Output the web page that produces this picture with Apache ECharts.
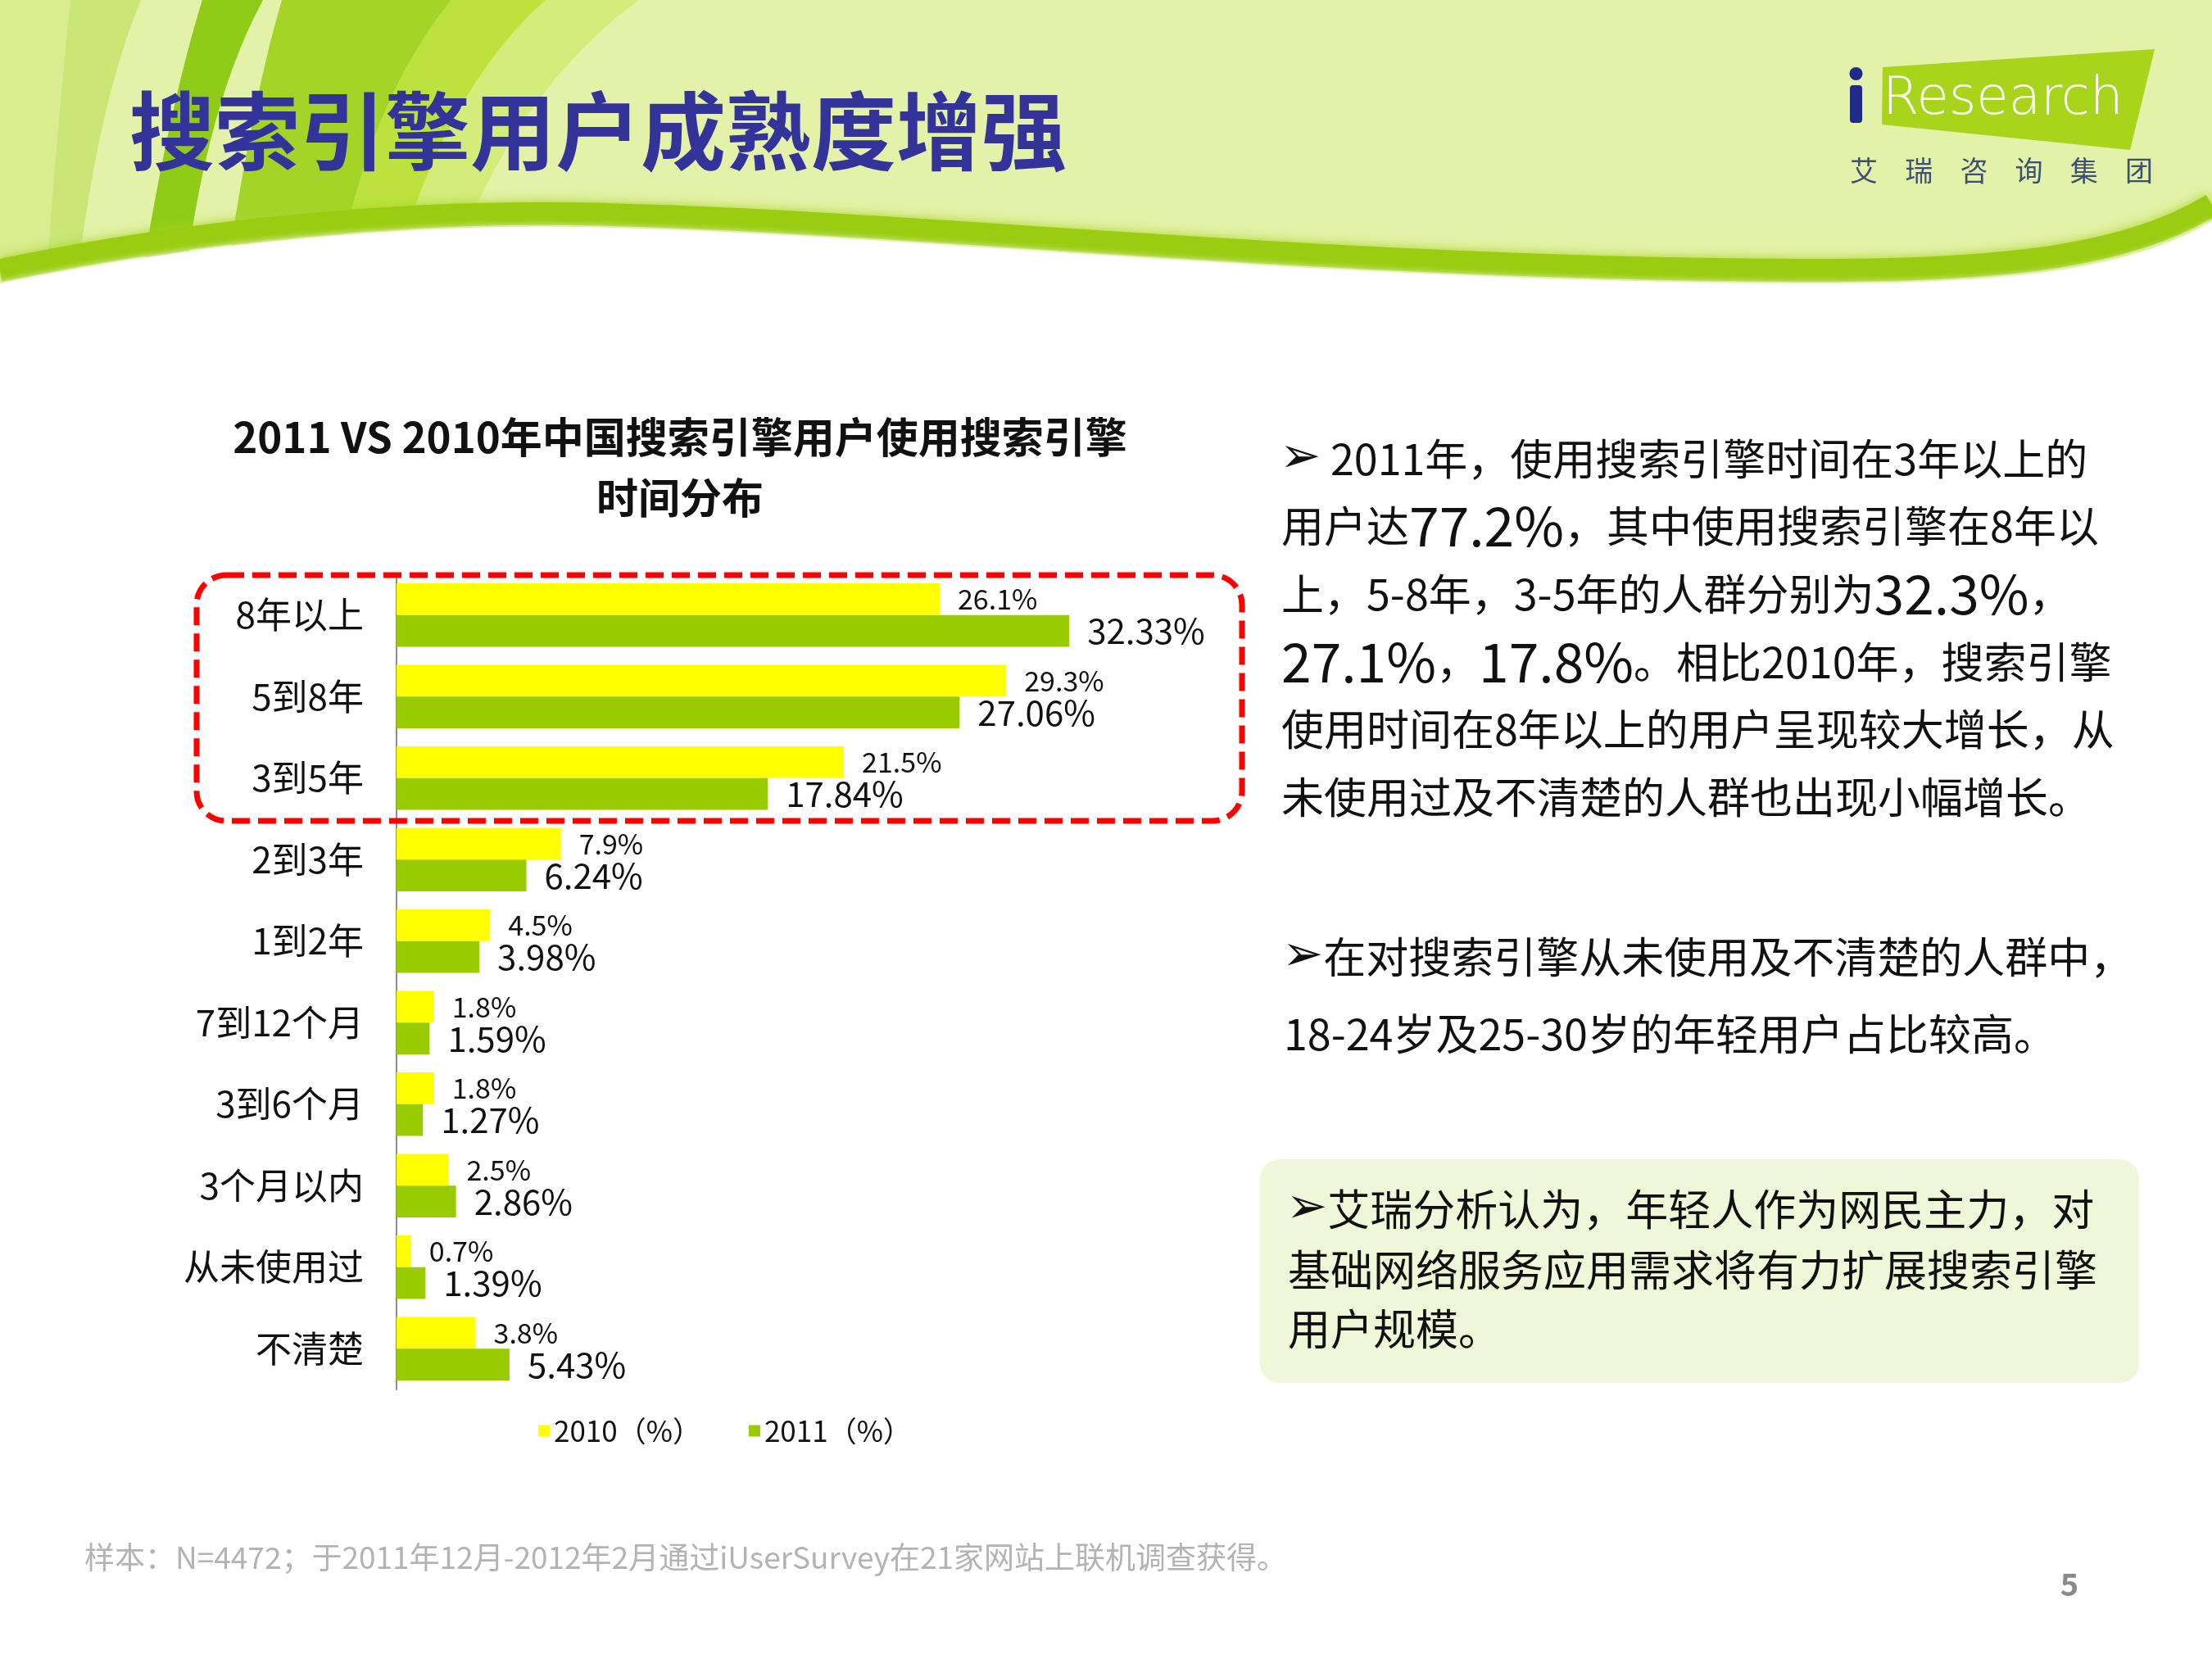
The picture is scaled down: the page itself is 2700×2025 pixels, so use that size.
<!DOCTYPE html>
<html>
<head>
<meta charset="utf-8">
<title>搜索引擎用户成熟度增强</title>
<script src="https://cdn.jsdelivr.net/npm/echarts/dist/echarts.min.js"></script>
<style>
    html, body { margin: 0; padding: 0; background: #ffffff; }
    #main { width: 2700px; height: 2025px; }
</style>
</head>
<body>
<div id="main"></div>
<script>
// 使用时长分类 (从上到下)
var categories = ['8年以上', '5到8年', '3到5年', '2到3年', '1到2年', '7到12个月', '3到6个月', '3个月以内', '从未使用过', '不清楚'];
var values2010 = [26.1, 29.3, 21.5, 7.9, 4.5, 1.8, 1.8, 2.5, 0.7, 3.8];
var values2011 = [32.33, 27.06, 17.84, 6.24, 3.98, 1.59, 1.27, 2.86, 1.39, 5.43];
var seriesNames = ['2010（%）', '2011（%）'];

var FONT = "'Noto Sans CJK SC', 'Noto Sans', sans-serif";

// 页眉装饰路径
var headerPaths = {
    hdrEdge: 'M0,0 L86,0 Q70,150 50,420 L0,420 Z',
    hdrStripeA: 'M86,0 L172,0 Q110,150 86,420 L50,420 Q70,150 86,0 Z',
    hdrStripeB: 'M247,0 L321,0 Q240,150 218,420 L160,420 Q200,150 247,0 Z',
    hdrStripeC: 'M344,0 L551,0 Q430,150 400,420 L265,420 Q300,150 344,0 Z',
    hdrStripeD: 'M551,0 L666,0 Q520,130 460,420 L400,420 Q430,150 551,0 Z',
    hdrStripeE: 'M666,0 L780,0 Q600,130 520,420 L460,420 Q520,130 666,0 Z',
    hdrBand: 'M0,330 C250,278 500,258 700,261 C1100,268 1600,328 2200,330 C2450,331 2600,312 2700,250',
    hdrWhite: 'M0,346 C250,294 500,274 700,277 C1100,284 1600,344 2200,346 C2450,347 2600,330 2700,270 L2700,440 L0,440 Z'
};
for (var name in headerPaths) {
    echarts.graphic.registerShape(name, echarts.graphic.extendPath(headerPaths[name]));
}

function txt(x, y, text, size, extra) {
    var style = {
        text: text,
        x: x,
        y: y,
        fontSize: size,
        fontFamily: FONT,
        fill: '#111111',
        verticalAlign: 'middle'
    };
    for (var k in extra) {
        style[k] = extra[k];
    }
    return { type: 'text', z: 10, style: style };
}

var bigNum = { n: { fontSize: 66, fontFamily: FONT, fill: '#111111' } };
var arrow = { a: { fontSize: 60, fontFamily: "'DejaVu Sans', sans-serif", fill: '#111111' } };

var graphics = [
    // 页眉背景
    { type: 'rect', z: 0, shape: { x: 0, y: 0, width: 2700, height: 420 }, style: { fill: '#e4f1a8' } },
    { type: 'hdrEdge', z: 1, style: { fill: '#d9ec90' } },
    { type: 'hdrStripeA', z: 1, style: { fill: '#c9e677' } },
    { type: 'hdrStripeB', z: 1, style: { fill: '#8fcb17' } },
    { type: 'hdrStripeC', z: 1, style: { fill: '#a4d428' } },
    { type: 'hdrStripeD', z: 1, style: { fill: '#bde23c' } },
    { type: 'hdrStripeE', z: 1, style: { fill: '#d4ec7a' } },
    { type: 'hdrBand', z: 2, style: { fill: null, stroke: '#9acd12', lineWidth: 28, shadowBlur: 14, shadowColor: '#a8d62a' } },
    { type: 'hdrWhite', z: 3, style: { fill: '#ffffff', shadowBlur: 10, shadowColor: '#ffffff' } },
    // 标题
    txt(158, 160, '搜索引擎用户成熟度增强', 104, { fill: '#333399', fontWeight: 'bold' }),
    // iResearch 标志
    { type: 'polygon', z: 5, shape: { points: [[2298, 82], [2630, 60], [2600, 183], [2297, 152]] }, style: { fill: '#a8d41c' } },
    { type: 'rect', z: 6, shape: { x: 2258, y: 104, width: 15, height: 46, r: 4 }, style: { fill: '#1f2a8a' } },
    { type: 'circle', z: 6, shape: { cx: 2265.5, cy: 90, r: 8 }, style: { fill: '#1f2a8a' } },
    txt(2298, 122, 'Research', 64, { fill: '#ffffff', fontFamily: "'DejaVu Sans ExtraLight', 'DejaVu Sans', sans-serif", fontWeight: 'lighter' }),
    // 图表标题
    txt(830, 534, '2011 VS 2010年中国搜索引擎用户使用搜索引擎', 51, { fontWeight: 'bold', align: 'center' }),
    txt(830, 608, '时间分布', 51, { fontWeight: 'bold', align: 'center' }),
    // 红色虚线框
    {
        type: 'rect', z: 10,
        shape: { x: 240, y: 702, width: 1276, height: 300, r: 36 },
        style: { fill: null, stroke: '#ff0000', lineWidth: 7, lineDash: [22, 10] }
    },
    // 右侧说明
    txt(1562, 560, '{a|➢} 2011年，使用搜索引擎时间在3年以上的', 52, { rich: arrow }),
    txt(1564, 642, '用户达{n|77.2%}，其中使用搜索引擎在8年以', 52, { rich: bigNum }),
    txt(1564, 725, '上，5-8年，3-5年的人群分别为{n|32.3%}，', 52, { rich: bigNum }),
    txt(1564, 808, '{n|27.1%}，{n|17.8%}。相比2010年，搜索引擎', 52, { rich: bigNum }),
    txt(1564, 890, '使用时间在8年以上的用户呈现较大增长，从', 52),
    txt(1564, 973, '未使用过及不清楚的人群也出现小幅增长。', 52),
    txt(1565, 1168, '{a|➢}在对搜索引擎从未使用及不清楚的人群中，', 52, { rich: arrow }),
    txt(1567, 1262, '18-24岁及25-30岁的年轻用户占比较高。', 52),
    { type: 'rect', z: 5, shape: { x: 1538, y: 1415, width: 1073, height: 273, r: 24 }, style: { fill: '#f0f7d8' } },
    txt(1570, 1476, '{a|➢}艾瑞分析认为，年轻人作为网民主力，对', 52, { rich: arrow }),
    txt(1572, 1550, '基础网络服务应用需求将有力扩展搜索引擎', 52),
    txt(1572, 1622, '用户规模。', 52),
    // 页脚
    txt(103, 1901, '样本：N=4472；于2011年12月-2012年2月通过iUserSurvey在21家网站上联机调查获得。', 37, { fill: '#b3b3b3' }),
    txt(2526, 1934, '5', 38, { fill: '#8a8a8a', fontWeight: 'bold', align: 'center' })
];

// 艾瑞咨询集团
var logoCn = '艾瑞咨询集团';
for (var i = 0; i < logoCn.length; i++) {
    graphics.push(txt(2275 + i * 67.2, 208, logoCn.charAt(i), 34, { fill: '#3d4f73', align: 'center' }));
}

var chart = echarts.init(document.getElementById('main'));

var option = {
    animation: false,
    textStyle: { fontFamily: FONT },
    legend: {
        data: seriesNames,
        left: 652,
        top: 1724,
        icon: 'rect',
        itemWidth: 14,
        itemHeight: 14,
        itemGap: 58,
        textStyle: { fontSize: 35, color: '#111111' }
    },
    grid: { left: 484, top: 701, width: 1016, height: 995 },
    xAxis: { type: 'value', min: 0, max: 40, show: false },
    yAxis: {
        type: 'category',
        data: categories,
        inverse: true,
        axisLine: { lineStyle: { color: '#8c8c8c', width: 2 } },
        axisTick: { show: false },
        axisLabel: { fontSize: 44, color: '#111111', margin: 40 }
    },
    series: [
        {
            name: seriesNames[0],
            type: 'bar',
            data: values2010,
            barGap: '0%',
            barCategoryGap: '22%',
            itemStyle: { color: '#ffff00' },
            label: { show: true, position: 'right', distance: 22, fontSize: 34, color: '#111111', formatter: '{c}%' }
        },
        {
            name: seriesNames[1],
            type: 'bar',
            data: values2011,
            barGap: '0%',
            barCategoryGap: '22%',
            itemStyle: { color: '#99cc00' },
            label: { show: true, position: 'right', distance: 22, fontSize: 42, color: '#111111', formatter: '{c}%' }
        }
    ],
    graphic: graphics
};

chart.setOption(option);
</script>
</body>
</html>
